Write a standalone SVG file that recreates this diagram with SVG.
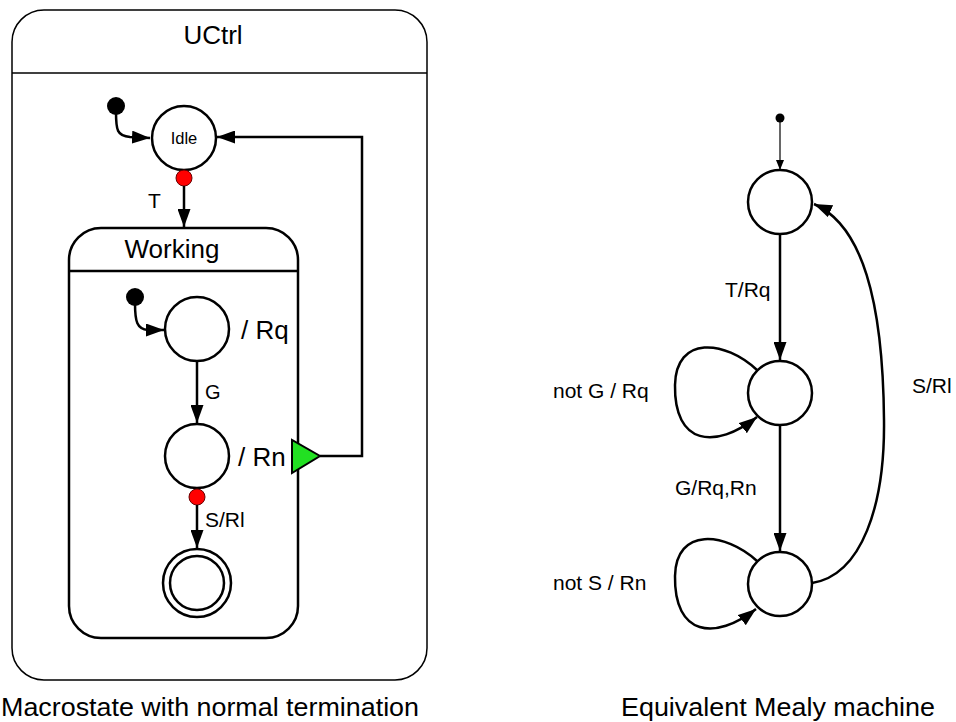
<svg xmlns="http://www.w3.org/2000/svg" width="956" height="722" viewBox="0 0 956 722">
<style>
text{font-family:"Liberation Sans",Arial,sans-serif;fill:#000}
.st{fill:#fff;stroke:#000;stroke-width:2.5}
.ln{fill:none;stroke:#000;stroke-width:2.5}
.thin{fill:none;stroke:#000;stroke-width:1.2}
.red{fill:#ff0000;stroke:#600;stroke-width:1}
</style>
<defs>
<marker id="ah" markerWidth="18" markerHeight="13" refX="18" refY="6.5" orient="auto" markerUnits="userSpaceOnUse"><path d="M0,0 L18,6.5 L0,13 z" fill="#000"/></marker>
<marker id="ahs" markerWidth="10" markerHeight="8" refX="10" refY="4" orient="auto" markerUnits="userSpaceOnUse"><path d="M0,0 L10,4 L0,8 z" fill="#000"/></marker>
</defs>
<rect width="956" height="722" fill="#fff"/>

<g id="UCtrl">
<rect x="12" y="10" width="415" height="670" rx="32" ry="32" fill="#fff" stroke="#000" stroke-width="1.5"/>
<line x1="12" y1="73" x2="427" y2="73" stroke="#000" stroke-width="1.5"/>
<text x="213" y="44" font-size="26" text-anchor="middle">UCtrl</text>
</g>

<g id="init1"><circle cx="116" cy="106" r="9" fill="#000"/></g>
<g id="Idle">
<circle class="st" cx="184" cy="138" r="32"/>
<text x="184" y="144" font-size="16.5" text-anchor="middle">Idle</text>
</g>
<g id="redT"><circle class="red" cx="184" cy="178" r="8"/></g>

<g id="Working">
<rect x="69" y="228" width="229" height="410" rx="32" ry="32" fill="#fff" stroke="#000" stroke-width="2.5"/>
<line x1="69" y1="271" x2="298" y2="271" stroke="#000" stroke-width="2.5"/>
<text x="172" y="258" font-size="26" text-anchor="middle">Working</text>
</g>

<g id="init2"><circle cx="135" cy="297" r="9" fill="#000"/></g>
<g id="WRq">
<circle class="st" cx="197" cy="329" r="32"/>
<text x="241" y="339" font-size="26">/ Rq</text>
</g>
<g id="WRn">
<circle class="st" cx="197" cy="456" r="32"/>
<text x="238" y="466" font-size="26">/ Rn</text>
</g>
<g id="redS"><circle class="red" cx="197" cy="497" r="8"/></g>
<g id="final">
<circle class="st" cx="197" cy="583" r="34"/>
<circle class="st" cx="197" cy="583" r="27"/>
</g>
<g id="exitPoint"><polygon points="292,440 292,473 320,456" fill="#22e022" stroke="#000" stroke-width="2"/></g>

<g id="A"><circle class="st" cx="780" cy="202" r="32"/></g>
<g id="B"><circle class="st" cx="780" cy="393" r="32"/></g>
<g id="C"><circle class="st" cx="780" cy="584" r="32"/></g>
<g id="init3"><circle cx="780" cy="118" r="4.5" fill="#000"/></g>

<g id="connectors">
<path class="ln" d="M116,112 C116,130 117,136 130,137 L150,138" marker-end="url(#ah)"/>
<path class="ln" d="M184,186 V227" marker-end="url(#ah)"/>
<path class="ln" d="M135,303 C135,322 137,329 148,330 L164,330" marker-end="url(#ah)"/>
<path class="ln" d="M197,361 V423" marker-end="url(#ah)"/>
<path class="ln" d="M197,505 V548" marker-end="url(#ah)"/>
<path class="ln" d="M320,456 H362 V137 H217" marker-end="url(#ah)"/>

<path class="thin" d="M780,122 V170" marker-end="url(#ahs)"/>
<path class="ln" d="M780,234 V360" marker-end="url(#ah)"/>
<path class="ln" d="M780,425 V551" marker-end="url(#ah)"/>
<path class="ln" d="M757,370 C725,340 676,335 675,385 C674,445 715,450 757,417" marker-end="url(#ah)"/>
<path class="ln" d="M757,561 C725,532 676,527 675,576 C674,636 715,641 756,609" marker-end="url(#ah)"/>
<path class="ln" d="M812,583 C862,575 885,505 884,420 C883,300 862,225 814,204" marker-end="url(#ah)"/>
</g>

<g id="labels">
<text x="148" y="208" font-size="21">T</text>
<text x="205" y="399" font-size="20">G</text>
<text x="205" y="527" font-size="21">S/Rl</text>
<text x="725" y="297" font-size="21">T/Rq</text>
<text x="553" y="398" font-size="21">not G / Rq</text>
<text x="912" y="393" font-size="21">S/Rl</text>
<text x="675" y="495" font-size="21">G/Rq,Rn</text>
<text x="553" y="590" font-size="21">not S / Rn</text>
</g>

<text x="1" y="716" font-size="25" textLength="418" lengthAdjust="spacingAndGlyphs">Macrostate with normal termination</text>
<text x="621" y="716" font-size="25" textLength="314" lengthAdjust="spacingAndGlyphs">Equivalent Mealy machine</text>
</svg>
